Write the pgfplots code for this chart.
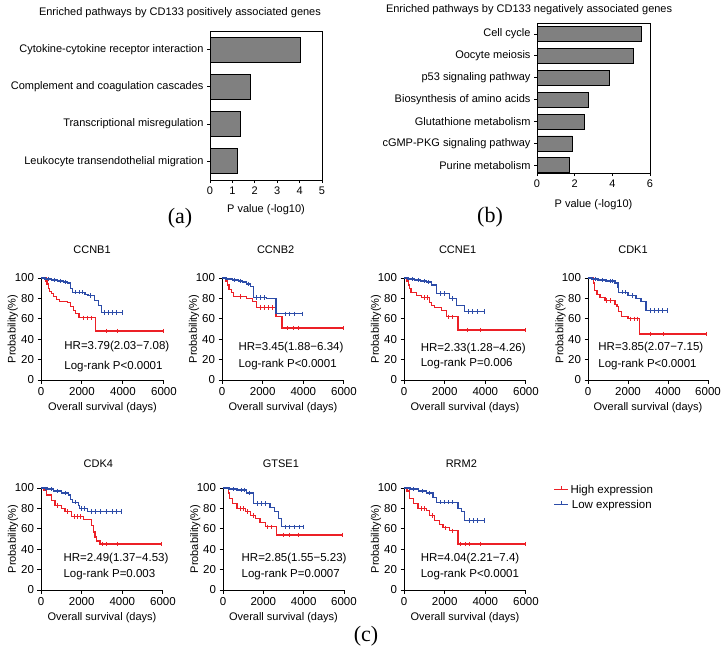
\documentclass[border=0pt]{standalone}
\usepackage{pgfplots}
\pgfplotsset{compat=1.18}
\usepackage{fontspec}
\setmainfont{Liberation Sans}
\newfontfamily\timesfont{Liberation Serif}
\definecolor{kmred}{RGB}{236,32,38}
\definecolor{kmblue}{RGB}{44,76,168}
\definecolor{barg}{RGB}{128,128,128}
\newcommand{\fa}{\fontsize{11}{12}\selectfont}
\newcommand{\fb}{\fontsize{11.5}{12}\selectfont}
\tikzset{hr/.style={anchor=west, font=\fb}}
\pgfplotsset{
 every axis title shift=0pt,
 km/.style={scale only axis, width=122pt, height=102pt, anchor=south west,
   xmin=0, xmax=6000, ymin=0, ymax=100, axis lines=left,
   axis line style={-, line width=1pt, black},
   xtick={0,2000,4000,6000}, ytick={0,20,40,60,80,100},
   tick align=outside, major tick length=3.5pt, tick style={black, line width=1pt},
   /pgf/number format/assume math mode=true, /pgf/number format/1000 sep={},
   ticklabel style={font=\fb},
   xlabel={Overall survival (days)}, ylabel={Probability(\%)},
   label style={font=\fa},
   xlabel style={at={(axis description cs:0.5,-0.275)}, anchor=center},
   ylabel style={at={(axis description cs:-0.23,0.5)}, anchor=center},
   title style={font=\fa, anchor=center},
   clip=false,
 },
 redline/.style={color=kmred, line width=1.3pt, const plot, forget plot},
 blueline/.style={color=kmblue, line width=1.3pt, const plot, forget plot},
 redcens/.style={color=kmred, only marks, mark=|, mark size=2.2pt, mark options={line width=0.9pt}, forget plot},
 bluecens/.style={color=kmblue, only marks, mark=|, mark size=2.2pt, mark options={line width=0.9pt}, forget plot},
 bars/.style={scale only axis, anchor=south west, xbar, xmin=0,
   y dir=reverse, tick align=outside, xtick pos=left, ytick pos=left,
   major tick length=3pt, tick style={black, line width=0.8pt},
   axis line style={line width=1pt}, ticklabel style={font=\fa},
   /pgf/number format/assume math mode=true,
   xlabel={P value (-log10)}, label style={font=\fa},
   title style={font=\fa, anchor=center}},
}
\begin{document}
\begin{tikzpicture}
\path[use as bounding box] (0pt,0pt) rectangle (723pt,-653pt);

% (a)
\begin{axis}[bars, width=112pt, height=149pt, at={(210pt,-180pt)},
  xmax=5, ymin=-0.5, ymax=3.5, bar width=25pt,
  xtick={0,1,2,3,4,5}, ytick={0,1,2,3},
  yticklabels={Cytokine-cytokine receptor interaction, Complement and coagulation cascades, Transcriptional misregulation\ , Leukocyte transendothelial migration},
  xlabel style={at={(axis description cs:0.5,-0.2)}, anchor=center},
  title={Enriched pathways by CD133 positively associated genes},
  title style={at={(axis description cs:-0.268,1.121)}, anchor=center}]
\addplot[fill=barg, draw=black, line width=0.8pt] coordinates {(4.03,0) (1.79,1) (1.37,2) (1.22,3)};
\end{axis}

% (b)
\begin{axis}[bars, width=113pt, height=150pt, at={(537pt,-173pt)},
  xmax=6, ymin=-0.5, ymax=6.35, bar width=15pt,
  xtick={0,2,4,6}, ytick={0,1,2,3,4,5,6},
  yticklabels={Cell cycle, Oocyte meiosis, p53 signaling pathway, Biosynthesis of amino acids, Glutathione metabolism, cGMP-PKG signaling pathway, Purine metabolism},
  xlabel style={at={(axis description cs:0.5,-0.213)}, anchor=center},
  title={Enriched pathways by CD133 negatively associated genes},
  title style={at={(axis description cs:-0.07,1.087)}, anchor=center}]
\addplot[fill=barg, draw=black, line width=0.8pt] coordinates {(5.56,0) (5.11,1) (3.83,2) (2.72,3) (2.50,4) (1.88,5) (1.70,6)};
\end{axis}

\node[font=\timesfont\fontsize{22}{24}\selectfont] at (180pt,-218pt) {(a)};
\node[font=\timesfont\fontsize{22}{24}\selectfont] at (490pt,-217pt) {(b)};
\node[font=\timesfont\fontsize{22}{24}\selectfont] at (366pt,-636pt) {(c)};

% CCNB1
\begin{axis}[km, at={(41pt,-380pt)}, width=123pt, title={CCNB1}, title style={at={(axis description cs:0.415,1.275)}, anchor=center}]
\addplot[redline] coordinates {(0,100) (250,97) (300,94) (350,90) (420,87) (500,85) (600,82) (750,79) (900,77) (1300,76) (1450,72) (1600,68) (1700,65) (1850,61) (2650,48) (5950,48)};
\addplot[redcens] coordinates {(2050,61) (2250,61) (2450,61) (3200,48) (3750,48) (5950,48)};
\addplot[blueline] coordinates {(0,100) (200,99) (500,98) (800,97) (1100,96) (1300,95) (1450,90) (1550,86) (2150,84) (2300,83) (2600,78) (2800,73) (2950,66) (3950,66)};
\addplot[bluecens] coordinates {(350,99) (650,98) (950,97) (1200,96) (1700,86) (1900,86) (2000,86) (2400,83) (3100,66) (3300,66) (3500,66) (3700,66) (3950,66)};
\node[hr] at (axis cs:970,32.4) {HR=3.79(2.03−7.08)};
\node[hr] at (axis cs:970,13.7) {Log-rank P<0.0001};
\end{axis}

% CCNB2
\begin{axis}[km, at={(222pt,-380pt)}, title={CCNB2}, title style={at={(axis description cs:0.44,1.275)}, anchor=center}]
\addplot[redline] coordinates {(0,100) (200,97) (280,93) (350,89) (450,86) (550,82) (1200,80) (1500,77) (1700,71) (2650,62) (2950,51) (5950,51)};
\addplot[redcens] coordinates {(900,82) (1900,71) (2100,71) (2300,71) (2500,71) (3200,51) (3500,51) (3750,51) (5950,51)};
\addplot[blueline] coordinates {(0,100) (200,99) (500,98) (800,97) (1000,96) (1200,94) (1400,92) (1550,81) (2200,80) (2650,65) (3950,65)};
\addplot[bluecens] coordinates {(600,98) (900,97) (1300,94) (1700,81) (1900,81) (2100,81) (3100,65) (3300,65) (3550,65) (3950,65)};
\node[hr] at (axis cs:640,31.4) {HR=3.45(1.88−6.34)};
\node[hr] at (axis cs:640,14.7) {Log-rank P<0.0001};
\end{axis}

% CCNE1
\begin{axis}[km, at={(404pt,-380pt)}, title={CCNE1}, title style={at={(axis description cs:0.44,1.275)}, anchor=center}]
\addplot[redline] coordinates {(0,100) (150,97) (220,93) (280,90) (350,86) (600,83) (850,81) (1260,76) (1350,73) (1510,71) (1840,68) (2080,62) (2650,49) (5950,49)};
\addplot[redcens] coordinates {(1000,81) (1150,81) (2200,62) (2400,62) (3100,49) (3750,49) (5950,49)};
\addplot[blueline] coordinates {(0,100) (200,99) (500,98) (800,97) (1100,96) (1340,93) (1590,85) (2250,80) (2570,73) (2980,67) (3970,67)};
\addplot[bluecens] coordinates {(400,99) (700,98) (1000,97) (1200,96) (1800,85) (2000,85) (2400,80) (3150,67) (3350,67) (3600,67) (3970,67)};
\node[hr] at (axis cs:655,31) {HR=2.33(1.28−4.26)};
\node[hr] at (axis cs:655,15.7) {Log-rank P=0.006};
\end{axis}

% CDK1
\begin{axis}[km, at={(588pt,-380pt)}, width=120pt, title={CDK1}, title style={at={(axis description cs:0.375,1.275)}, anchor=center}]
\addplot[redline] coordinates {(0,100) (280,95) (320,88) (450,84) (600,81) (850,78) (1350,74) (1450,72) (1520,67) (1680,62) (2000,60) (2580,45) (5930,45)};
\addplot[redcens] coordinates {(900,78) (1100,78) (2100,60) (2300,60) (2450,60) (3100,45) (3750,45) (5930,45)};
\addplot[blueline] coordinates {(0,100) (200,99) (500,98) (900,97) (1350,95) (1500,91) (1510,86) (2000,83) (2400,80) (2650,77) (2900,68) (3970,68)};
\addplot[bluecens] coordinates {(350,99) (700,98) (1100,97) (1200,97) (1700,86) (1850,86) (2200,83) (3100,68) (3300,68) (3500,68) (3700,68) (3970,68)};
\node[hr] at (axis cs:345,31.7) {HR=3.85(2.07−7.15)};
\node[hr] at (axis cs:345,14.7) {Log-rank P<0.0001};
\end{axis}

% CDK4
\begin{axis}[km, at={(41pt,-590pt)}, title={CDK4}, title style={at={(axis description cs:0.47,1.24)}, anchor=center}]
\addplot[redline] coordinates {(0,100) (150,98) (280,93) (525,88) (690,83) (1015,80) (1180,77) (1510,72) (2080,69) (2490,63) (2575,57) (2660,52) (2740,48) (2900,45) (5930,45)};
\addplot[redcens] coordinates {(800,83) (1300,77) (1650,72) (1800,72) (1950,72) (3000,45) (3200,45) (3750,45) (5930,45)};
\addplot[blueline] coordinates {(0,100) (300,99) (600,97) (1000,95) (1350,93) (1450,89) (1550,86) (1850,83) (1900,80) (2300,77) (3970,77)};
\addplot[bluecens] coordinates {(200,99) (500,99) (800,97) (1200,95) (1700,86) (2000,80) (2150,80) (2500,77) (2700,77) (2900,77) (3200,77) (3500,77) (3700,77) (3970,77)};
\node[hr] at (axis cs:935,31) {HR=2.49(1.37−4.53)};
\node[hr] at (axis cs:935,14.7) {Log-rank P=0.003};
\end{axis}

% GTSE1
\begin{axis}[km, at={(223pt,-590pt)}, width=121pt, title={GTSE1}, title style={at={(axis description cs:0.478,1.24)}, anchor=center}]
\addplot[redline] coordinates {(0,100) (280,95) (330,90) (480,85) (690,80) (1100,77) (1380,73) (1600,70) (1840,66) (2100,62) (2650,54) (5930,54)};
\addplot[redcens] coordinates {(850,80) (1000,80) (1200,77) (1500,73) (2200,62) (2400,62) (3000,54) (3300,54) (3750,54) (5930,54)};
\addplot[blueline] coordinates {(0,100) (300,99) (700,98) (1180,95) (1510,85) (2330,81) (2570,77) (2740,70) (2900,62) (3970,62)};
\addplot[bluecens] coordinates {(500,99) (900,98) (1050,98) (1300,95) (1700,85) (1900,85) (2100,85) (3100,62) (3300,62) (3550,62) (3800,62) (3970,62)};
\node[hr] at (axis cs:750,31) {HR=2.85(1.55−5.23)};
\node[hr] at (axis cs:750,14.7) {Log-rank P=0.0007};
\end{axis}

% RRM2
\begin{axis}[km, at={(404pt,-590pt)}, title={RRM2}, title style={at={(axis description cs:0.47,1.24)}, anchor=center},
  legend image code/.code={\draw[#1] (0pt,0pt) -- (14pt,0pt); \draw[#1] (7pt,0pt) -- (7pt,3.5pt);},
  legend style={at={(axis description cs:1.2,1.07)}, anchor=north west, draw=none, fill=none, font=\fb, row sep=1pt}]
\addplot[redline] coordinates {(0,100) (150,97) (280,90) (450,85) (690,80) (1100,78) (1260,73) (1510,68) (1750,64) (1920,61) (2250,58) (2650,45) (5980,45)};
\addplot[redcens] coordinates {(850,80) (1000,80) (1400,73) (2050,61) (2400,58) (2800,45) (3000,45) (3200,45) (3750,45) (5980,45)};
\addplot[blueline] coordinates {(0,100) (300,99) (700,97) (1100,95) (1430,91) (1590,86) (2650,80) (2820,77) (2980,68) (3980,68)};
\addplot[bluecens] coordinates {(450,99) (900,97) (1250,95) (1800,86) (2000,86) (2200,86) (2400,86) (3200,68) (3400,68) (3600,68) (3980,68)};
\node[hr] at (axis cs:655,30.4) {HR=4.04(2.21−7.4)};
\node[hr] at (axis cs:655,14.7) {Log-rank P<0.0001};
\addlegendimage{color=kmred, line width=1pt}
\addlegendentry{High expression}
\addlegendimage{color=kmblue, line width=1pt}
\addlegendentry{Low expression}
\end{axis}
\end{tikzpicture}
\end{document}
